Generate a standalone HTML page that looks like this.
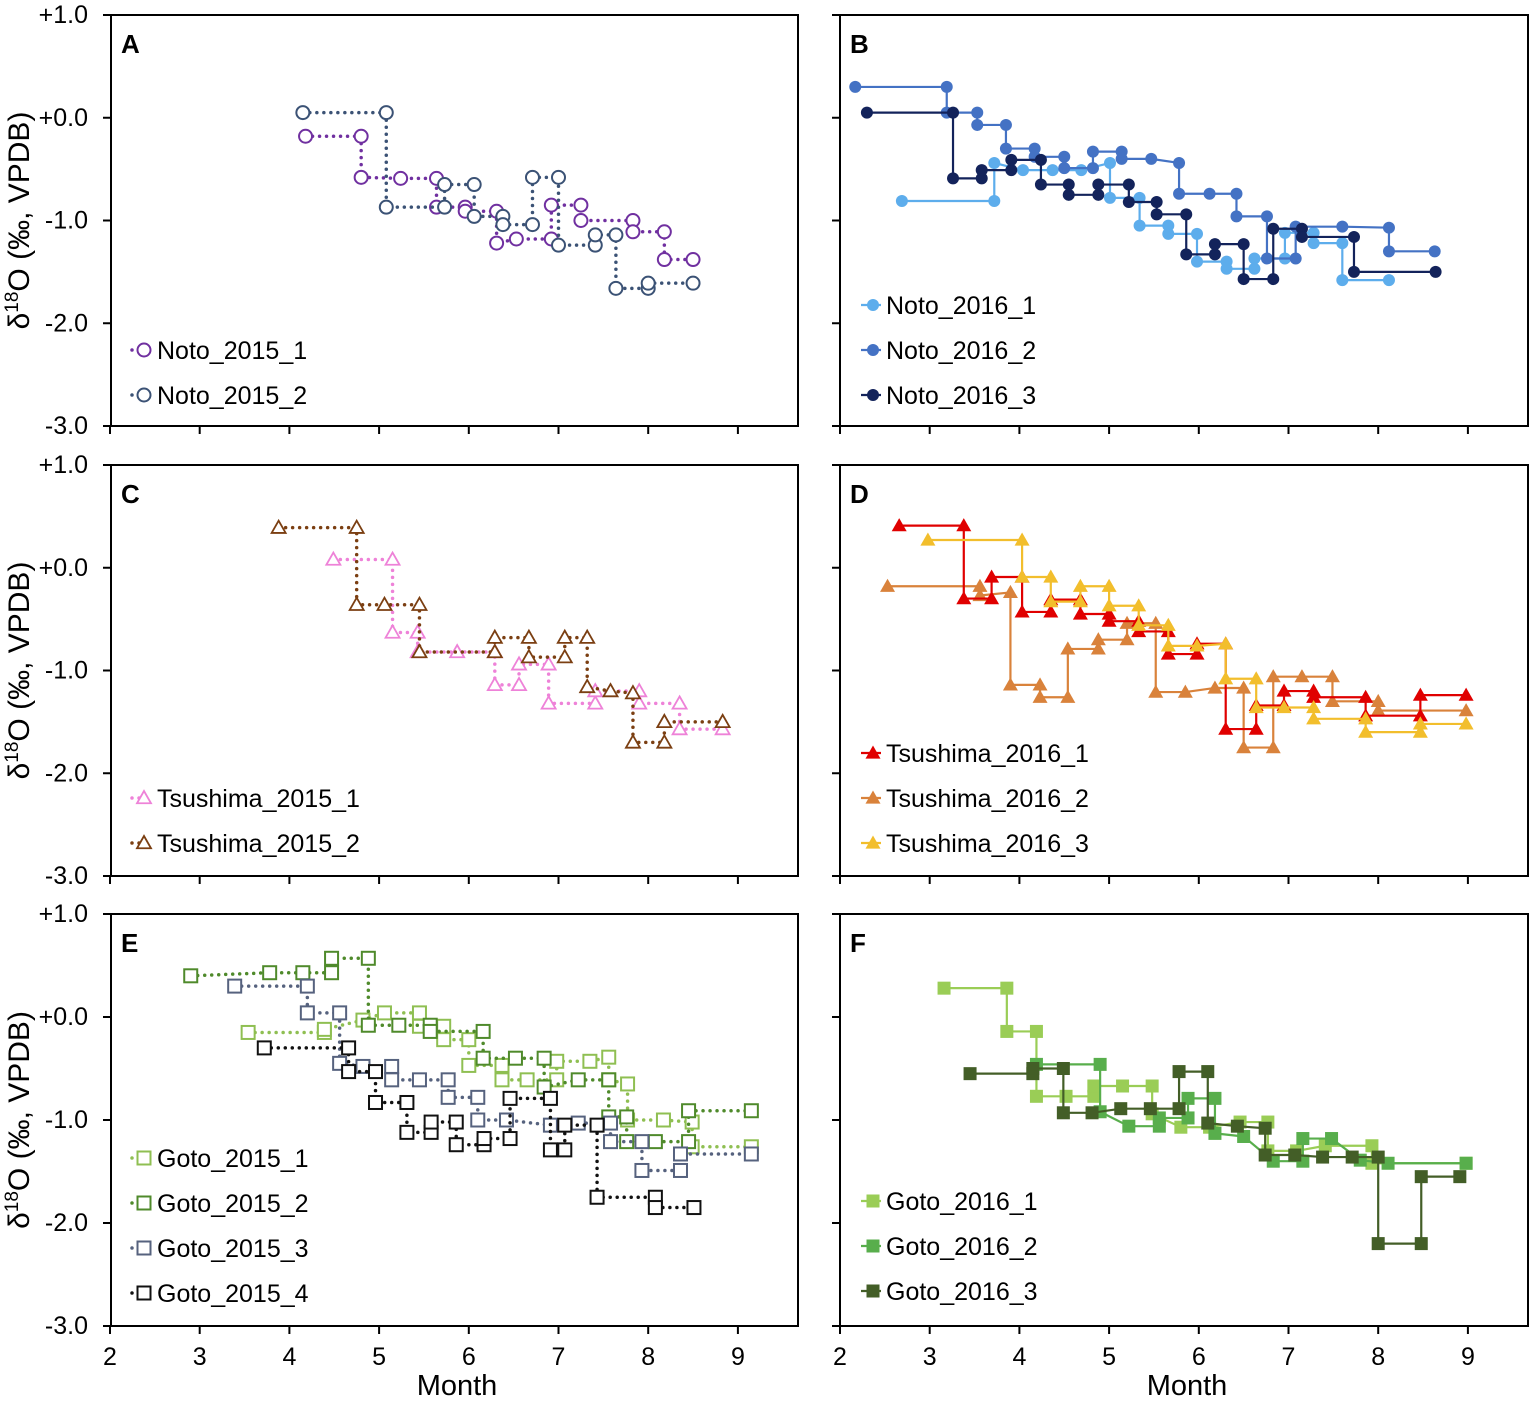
<!DOCTYPE html>
<html><head><meta charset="utf-8"><style>
html,body{margin:0;padding:0;background:#fff;}
svg{display:block;font-family:"Liberation Sans",Arial,sans-serif;}
</style></head><body>
<svg id="chart" width="1535" height="1401" viewBox="0 0 1535 1401" xmlns="http://www.w3.org/2000/svg"></svg>
<script>
// ---- data (month, δ18O) ----
const noto2015_1_x=[4.18,4.80,4.80,5.24,5.64,5.64,5.96,5.96,6.31,6.31,6.53,6.92,6.92,7.25,7.25,7.83,7.83,8.18,8.18,8.50];
const noto2015_1_y=[-0.18,-0.18,-0.58,-0.59,-0.59,-0.87,-0.87,-0.91,-0.91,-1.22,-1.18,-1.18,-0.85,-0.85,-1.00,-1.00,-1.11,-1.11,-1.38,-1.38];
const noto2015_2_x=[4.15,5.08,5.08,5.73,5.73,6.06,6.06,6.38,6.38,6.71,6.71,7.00,7.00,7.41,7.41,7.64,7.64,8.00,8.00,8.50];
const noto2015_2_y=[0.05,0.05,-0.87,-0.87,-0.65,-0.65,-0.96,-0.96,-1.04,-1.04,-0.58,-0.58,-1.24,-1.24,-1.14,-1.14,-1.66,-1.66,-1.61,-1.61];
const noto2016_1_x=[2.69,3.72,3.72,4.04,4.37,4.69,5.01,5.01,5.34,5.34,5.66,5.66,5.98,5.98,6.31,6.31,6.62,6.62,6.96,6.96,7.28,7.28,7.60,7.60,8.12];
const noto2016_1_y=[-0.81,-0.81,-0.44,-0.51,-0.51,-0.51,-0.44,-0.78,-0.78,-1.05,-1.05,-1.13,-1.13,-1.40,-1.40,-1.47,-1.47,-1.37,-1.37,-1.12,-1.12,-1.22,-1.22,-1.58,-1.58];
const noto2016_2_x=[2.17,3.19,3.19,3.53,3.53,3.85,3.85,4.17,4.17,4.50,4.50,4.82,4.82,5.14,5.14,5.47,5.78,5.78,6.12,6.42,6.42,6.76,6.76,7.08,7.08,7.60,8.12,8.12,8.63];
const noto2016_2_y=[0.30,0.30,0.05,0.05,-0.07,-0.07,-0.30,-0.30,-0.38,-0.38,-0.49,-0.49,-0.33,-0.33,-0.40,-0.40,-0.44,-0.74,-0.74,-0.74,-0.96,-0.96,-1.37,-1.37,-1.06,-1.06,-1.07,-1.30,-1.30];
const noto2016_3_x=[2.30,3.26,3.26,3.58,3.58,3.91,3.91,4.24,4.24,4.55,4.55,4.88,4.88,5.22,5.22,5.53,5.53,5.86,5.86,6.18,6.18,6.50,6.50,6.83,6.83,7.15,7.15,7.73,7.73,8.64];
const noto2016_3_y=[0.05,0.05,-0.59,-0.59,-0.51,-0.51,-0.41,-0.41,-0.65,-0.65,-0.75,-0.75,-0.65,-0.65,-0.82,-0.82,-0.94,-0.94,-1.33,-1.33,-1.23,-1.23,-1.57,-1.57,-1.08,-1.08,-1.16,-1.16,-1.50,-1.50];
const tsu2015_1_x=[4.49,5.15,5.15,5.43,5.43,5.87,6.29,6.29,6.56,6.56,6.89,6.89,7.41,7.41,7.90,7.90,8.35,8.35,8.83];
const tsu2015_1_y=[0.08,0.08,-0.63,-0.63,-0.82,-0.82,-0.82,-1.14,-1.14,-0.94,-0.94,-1.32,-1.32,-1.20,-1.20,-1.32,-1.32,-1.57,-1.57];
const tsu2015_2_x=[3.88,4.75,4.75,5.06,5.45,5.45,6.29,6.29,6.67,6.67,7.07,7.07,7.32,7.32,7.58,7.83,7.83,8.18,8.18,8.83];
const tsu2015_2_y=[0.39,0.39,-0.36,-0.36,-0.36,-0.82,-0.82,-0.68,-0.68,-0.87,-0.87,-0.68,-0.68,-1.16,-1.20,-1.22,-1.70,-1.70,-1.50,-1.50];
const tsu2016_1_x=[2.66,3.38,3.38,3.69,3.69,4.03,4.03,4.35,4.35,4.68,4.68,5.00,5.00,5.33,5.33,5.66,5.66,5.98,5.98,6.30,6.30,6.64,6.64,6.95,6.95,7.28,7.28,7.86,7.86,8.47,8.47,8.98];
const tsu2016_1_y=[0.41,0.41,-0.30,-0.30,-0.09,-0.09,-0.43,-0.43,-0.31,-0.31,-0.45,-0.45,-0.52,-0.52,-0.62,-0.62,-0.84,-0.84,-0.74,-0.74,-1.57,-1.57,-1.34,-1.34,-1.20,-1.20,-1.26,-1.26,-1.44,-1.44,-1.24,-1.24];
const tsu2016_2_x=[2.53,3.56,3.56,3.90,3.90,4.23,4.23,4.54,4.54,4.88,4.88,5.20,5.20,5.52,5.52,5.85,6.18,6.50,6.50,6.83,6.83,7.15,7.49,7.49,8.00,8.00,8.98];
const tsu2016_2_y=[-0.18,-0.18,-0.27,-0.24,-1.14,-1.14,-1.26,-1.26,-0.79,-0.79,-0.70,-0.70,-0.54,-0.54,-1.21,-1.21,-1.17,-1.17,-1.75,-1.75,-1.06,-1.06,-1.06,-1.30,-1.30,-1.39,-1.39];
const tsu2016_3_x=[2.98,4.03,4.03,4.35,4.35,4.68,4.68,5.00,5.00,5.33,5.33,5.66,5.66,5.98,6.30,6.30,6.64,6.64,6.95,7.28,7.28,7.86,7.86,8.47,8.47,8.98];
const tsu2016_3_y=[0.27,0.27,-0.09,-0.09,-0.33,-0.33,-0.18,-0.18,-0.37,-0.37,-0.56,-0.56,-0.76,-0.76,-0.74,-1.08,-1.08,-1.36,-1.36,-1.36,-1.47,-1.47,-1.60,-1.60,-1.52,-1.52];
const goto2015_1_x=[3.54,4.39,4.39,4.82,5.06,5.45,5.45,5.72,5.72,6.00,6.00,6.37,6.37,6.65,6.98,6.98,7.35,7.56,7.56,7.77,7.77,8.17,8.49,8.49,9.15];
const goto2015_1_y=[-0.15,-0.15,-0.12,-0.03,0.04,0.04,-0.09,-0.09,-0.22,-0.22,-0.47,-0.47,-0.61,-0.61,-0.61,-0.43,-0.43,-0.39,-0.61,-0.65,-1.00,-1.00,-1.02,-1.26,-1.26];
const goto2015_2_x=[2.90,3.78,4.15,4.47,4.47,4.88,4.88,5.22,5.57,5.57,6.16,6.16,6.52,6.84,6.84,7.22,7.56,7.56,7.76,7.76,8.08,8.45,8.45,9.15];
const goto2015_2_y=[0.40,0.43,0.43,0.43,0.57,0.57,-0.08,-0.08,-0.08,-0.14,-0.14,-0.40,-0.40,-0.40,-0.68,-0.61,-0.61,-0.97,-0.97,-1.21,-1.21,-1.21,-0.91,-0.91];
const goto2015_3_x=[3.39,4.20,4.20,4.56,4.56,4.82,5.14,5.14,5.45,5.77,5.77,6.10,6.10,6.42,6.91,7.22,7.58,7.58,7.93,7.93,8.36,8.36,9.15];
const goto2015_3_y=[0.30,0.30,0.04,0.04,-0.45,-0.48,-0.48,-0.61,-0.61,-0.61,-0.78,-0.78,-1.00,-1.00,-1.05,-1.03,-1.03,-1.21,-1.21,-1.49,-1.49,-1.33,-1.33];
const goto2015_4_x=[3.72,4.66,4.66,4.96,4.96,5.31,5.31,5.58,5.58,5.86,5.86,6.17,6.17,6.46,6.46,6.91,6.91,7.07,7.07,7.43,7.43,8.08,8.08,8.51];
const goto2015_4_y=[-0.30,-0.30,-0.53,-0.53,-0.83,-0.83,-1.12,-1.12,-1.02,-1.02,-1.24,-1.24,-1.18,-1.18,-0.79,-0.79,-1.29,-1.29,-1.05,-1.05,-1.75,-1.75,-1.85,-1.85];
const goto2016_1_x=[3.16,3.86,3.86,4.19,4.19,4.52,4.83,4.83,5.15,5.48,5.48,5.80,6.12,6.46,6.77,6.77,7.09,7.41,7.93,7.93,8.98];
const goto2016_1_y=[0.28,0.28,-0.14,-0.14,-0.77,-0.77,-0.77,-0.67,-0.67,-0.67,-0.94,-1.07,-1.07,-1.02,-1.02,-1.30,-1.30,-1.25,-1.25,-1.42,-1.42];
const goto2016_2_x=[4.19,4.90,4.90,5.22,5.56,5.56,5.88,5.88,6.18,6.18,6.50,6.83,7.16,7.16,7.48,7.80,8.11,8.98];
const goto2016_2_y=[-0.46,-0.46,-0.92,-1.06,-1.06,-0.98,-0.98,-0.79,-0.79,-1.13,-1.16,-1.40,-1.40,-1.18,-1.18,-1.39,-1.42,-1.42];
const goto2016_3_x=[3.45,4.15,4.15,4.49,4.49,4.81,5.13,5.46,5.78,5.78,6.10,6.10,6.43,6.74,6.74,7.07,7.38,7.71,8.00,8.00,8.48,8.48,8.91];
const goto2016_3_y=[-0.55,-0.55,-0.50,-0.50,-0.93,-0.93,-0.89,-0.89,-0.89,-0.53,-0.53,-1.03,-1.06,-1.08,-1.34,-1.34,-1.36,-1.36,-1.36,-2.20,-2.20,-1.55,-1.55];
const xTicks=[2,3,4,5,6,7,8,9];
const yTicks=[1,0,-1,-2,-3];
const yTickLabels=["+1.0","+0.0","-1.0","-2.0","-3.0"];

const NS="http://www.w3.org/2000/svg";
const svg=document.getElementById('chart');
function el(tag,attrs,parent){const e=document.createElementNS(NS,tag);for(const k in attrs)e.setAttribute(k,attrs[k]);(parent||svg).appendChild(e);return e;}

const colL={x0:111,x1:798,px2:110,pxPerMonth:89.7};
const colR={x0:840,x1:1528,px2:840,pxPerMonth:89.7};
const rows=[{top:15,bot:426},{top:465,bot:876},{top:914,bot:1326}];

const panels=[
 {id:'A',col:colL,row:0,legY:[350,395],series:[
  {name:'Noto_2015_1',x:noto2015_1_x,y:noto2015_1_y,color:'#7030A0',m:'circle',open:true,dot:true},
  {name:'Noto_2015_2',x:noto2015_2_x,y:noto2015_2_y,color:'#3B5275',m:'circle',open:true,dot:true}]},
 {id:'B',col:colR,row:0,legY:[305,350,395],series:[
  {name:'Noto_2016_1',x:noto2016_1_x,y:noto2016_1_y,color:'#5DADEC',m:'circle',open:false,dot:false},
  {name:'Noto_2016_2',x:noto2016_2_x,y:noto2016_2_y,color:'#4472C4',m:'circle',open:false,dot:false},
  {name:'Noto_2016_3',x:noto2016_3_x,y:noto2016_3_y,color:'#13235B',m:'circle',open:false,dot:false}]},
 {id:'C',col:colL,row:1,legY:[798,843],series:[
  {name:'Tsushima_2015_1',x:tsu2015_1_x,y:tsu2015_1_y,color:'#EE82D8',m:'tri',open:true,dot:true},
  {name:'Tsushima_2015_2',x:tsu2015_2_x,y:tsu2015_2_y,color:'#7B3F12',m:'tri',open:true,dot:true}]},
 {id:'D',col:colR,row:1,legY:[753,798,843],series:[
  {name:'Tsushima_2016_2',x:tsu2016_2_x,y:tsu2016_2_y,color:'#D9823B',m:'tri',open:false,dot:false,leg:1},
  {name:'Tsushima_2016_1',x:tsu2016_1_x,y:tsu2016_1_y,color:'#E00000',m:'tri',open:false,dot:false,leg:0},
  {name:'Tsushima_2016_3',x:tsu2016_3_x,y:tsu2016_3_y,color:'#F2BE2C',m:'tri',open:false,dot:false,leg:2}]},
 {id:'E',col:colL,row:2,legY:[1158,1203,1248,1293],series:[
  {name:'Goto_2015_1',x:goto2015_1_x,y:goto2015_1_y,color:'#8FBF52',m:'sq',open:true,dot:true},
  {name:'Goto_2015_2',x:goto2015_2_x,y:goto2015_2_y,color:'#4F8A2B',m:'sq',open:true,dot:true},
  {name:'Goto_2015_3',x:goto2015_3_x,y:goto2015_3_y,color:'#56627E',m:'sq',open:true,dot:true},
  {name:'Goto_2015_4',x:goto2015_4_x,y:goto2015_4_y,color:'#111111',m:'sq',open:true,dot:true}]},
 {id:'F',col:colR,row:2,legY:[1201,1246,1291],series:[
  {name:'Goto_2016_1',x:goto2016_1_x,y:goto2016_1_y,color:'#9ACD56',m:'sq',open:false,dot:false},
  {name:'Goto_2016_2',x:goto2016_2_x,y:goto2016_2_y,color:'#58AE4C',m:'sq',open:false,dot:false},
  {name:'Goto_2016_3',x:goto2016_3_x,y:goto2016_3_y,color:'#435E27',m:'sq',open:false,dot:false}]}
];

function marker(g,type,cx,cy,color,open){
 let e;
 if(type==='circle'){e=el('circle',{cx:cx,cy:cy,r:open?6.5:6,fill:open?'#fff':color,stroke:color,'stroke-width':open?2:0},g);}
 else if(type==='tri'){const s=open?7:7.5;e=el('polygon',{points:`${cx},${cy-s} ${cx+s},${cy+s*0.75} ${cx-s},${cy+s*0.75}`,fill:open?'#fff':color,stroke:color,'stroke-width':open?1.8:0},g);}
 else {const s=6.5;e=el('rect',{x:cx-s,y:cy-s,width:2*s,height:2*s,fill:open?'#fff':color,stroke:color,'stroke-width':open?2:0},g);}
 return e;
}

panels.forEach(p=>{
 const r=rows[p.row],c=p.col;
 const sx=v=>c.px2+(v-2)*c.pxPerMonth;
 const sy=v=>r.top+(1-v)*(r.bot-r.top)/4;
 const g=el('g',{});
 
 
 yTicks.forEach((t,i)=>{
  const tk=el('line',{x1:c.x0-8,x2:c.x0,y1:sy(t),y2:sy(t),stroke:'#000','stroke-width':2},g);
  
  
  if(c===colL){const tl=el('text',{x:88,y:sy(t)+8,'text-anchor':'end','font-size':25,fill:'#000'},g);tl.textContent=yTickLabels[i];
   
   }
 });
 xTicks.forEach(t=>{
  const tk=el('line',{x1:sx(t),x2:sx(t),y1:r.bot,y2:r.bot+8,stroke:'#000','stroke-width':2},g);
  
  
  if(p.row===2){const tl=el('text',{x:sx(t),y:r.bot+39,'text-anchor':'middle','font-size':25,fill:'#000'},g);tl.textContent=t;
   
   }
 });
 const box=el('rect',{x:c.x0,y:r.top,width:c.x1-c.x0,height:r.bot-r.top,fill:'none',stroke:'#000','stroke-width':2},g);
 
 
 const lt=el('text',{x:c.x0+10,y:r.top+38,'font-size':26,'font-weight':'bold',fill:'#000'},g);
 lt.textContent=p.id;
 
 
 p.series.forEach((s,si)=>{
  const sg=el('g',{},g);
  
  
  const pts=s.x.map((v,i)=>sx(v)+','+sy(s.y[i])).join(' ');
  const ln=el('polyline',{points:pts,fill:'none',stroke:s.color,'stroke-width':s.dot?3.5:2.2,'stroke-linecap':s.dot?'round':'butt','stroke-dasharray':s.dot?'0 7':'none'},sg);
  
  
  s.x.forEach((v,i)=>{
   const m=marker(sg,s.m,sx(v),sy(s.y[i]),s.color,s.open);
   
   
  });
  const li=(s.leg!==undefined)?s.leg:si;
  const ly=p.legY[li];
  const lg=el('g',{},g);
  
  
  const lx=c.x0+19;
  el('line',{x1:lx+2,x2:lx+22,y1:ly,y2:ly,stroke:s.color,'stroke-width':s.dot?3.5:2.2,'stroke-linecap':s.dot?'round':'butt','stroke-dasharray':s.dot?'0 7':'none'},lg);
  marker(lg,s.m,lx+14,ly,s.color,s.open);
  const tx=el('text',{x:lx+27,y:ly+9,'font-size':25,fill:'#000'},lg);
  tx.textContent=s.name;
 });
});

rows.forEach(r=>{
 const cy=(r.top+r.bot)/2;
 const t=el('text',{x:0,y:0,transform:`translate(29,${cy}) rotate(-90)`,'text-anchor':'middle','font-size':30,fill:'#000'});
 
 
 t.innerHTML='δ<tspan dy="-11" font-size="19">18</tspan><tspan dy="11">O (‰, VPDB)</tspan>';
});
[457,1187].forEach(x=>{
 const t=el('text',{x:x,y:1395,'text-anchor':'middle','font-size':29,fill:'#000'});
 
 
 t.textContent='Month';
});
</script>
</body></html>
